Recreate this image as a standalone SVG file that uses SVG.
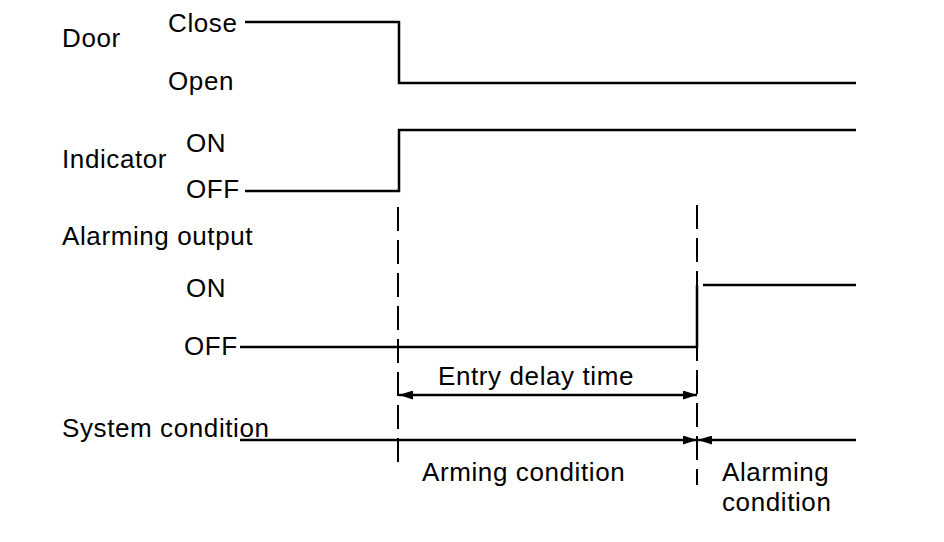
<svg xmlns="http://www.w3.org/2000/svg" width="944" height="542" viewBox="0 0 944 542">
<style>
text{font-family:"Liberation Sans",Arial,sans-serif;font-size:26px;letter-spacing:0.6px;fill:#000}
.sig{fill:none;stroke:#000;stroke-width:2.5}
.dash{fill:none;stroke:#000;stroke-width:2;stroke-dasharray:24 9}
</style>
<defs>
<marker id="ah" viewBox="0 0 14 9" refX="14" refY="4.5" markerWidth="14" markerHeight="9" markerUnits="userSpaceOnUse" orient="auto-start-reverse">
<path d="M0,0 L14,4.5 L0,9 Z" fill="#000"/>
</marker>
</defs>
<rect width="944" height="542" fill="#fff"/>
<g id="door">
<text x="62" y="47">Door</text>
<text x="168" y="32">Close</text>
<text x="168" y="90">Open</text>
</g>
<g id="indicator">
<text x="62" y="168">Indicator</text>
<text x="186" y="152">ON</text>
<text x="186" y="198">OFF</text>
</g>
<g id="alarming-output">
<text x="62" y="245">Alarming output</text>
<text x="186" y="297">ON</text>
<text x="184" y="355">OFF</text>
</g>
<g id="system-condition">
<text x="62" y="437">System condition</text>
<text x="422" y="481">Arming condition</text>
<text x="722" y="481">Alarming</text>
<text x="722" y="511">condition</text>
</g>
<g id="entry-delay">
<text x="438" y="385">Entry delay time</text>
</g>
<g id="connectors">
<polyline class="sig" points="245,22 399,22 399,83 856,83"/>
<polyline class="sig" points="245,191 399,191 399,130 856,130"/>
<polyline class="sig" points="240,347 697,347 697,285"/>
<line class="sig" x1="703" y1="285" x2="856" y2="285"/>
<line class="dash" x1="398" y1="207" x2="398" y2="470"/>
<line class="dash" x1="697" y1="205" x2="697" y2="485"/>
<line class="sig" x1="399" y1="395" x2="697" y2="395" marker-start="url(#ah)" marker-end="url(#ah)"/>
<line class="sig" x1="240" y1="440" x2="697" y2="440" marker-end="url(#ah)"/>
<line class="sig" x1="856" y1="440" x2="698" y2="440" marker-end="url(#ah)"/>
</g>
</svg>
